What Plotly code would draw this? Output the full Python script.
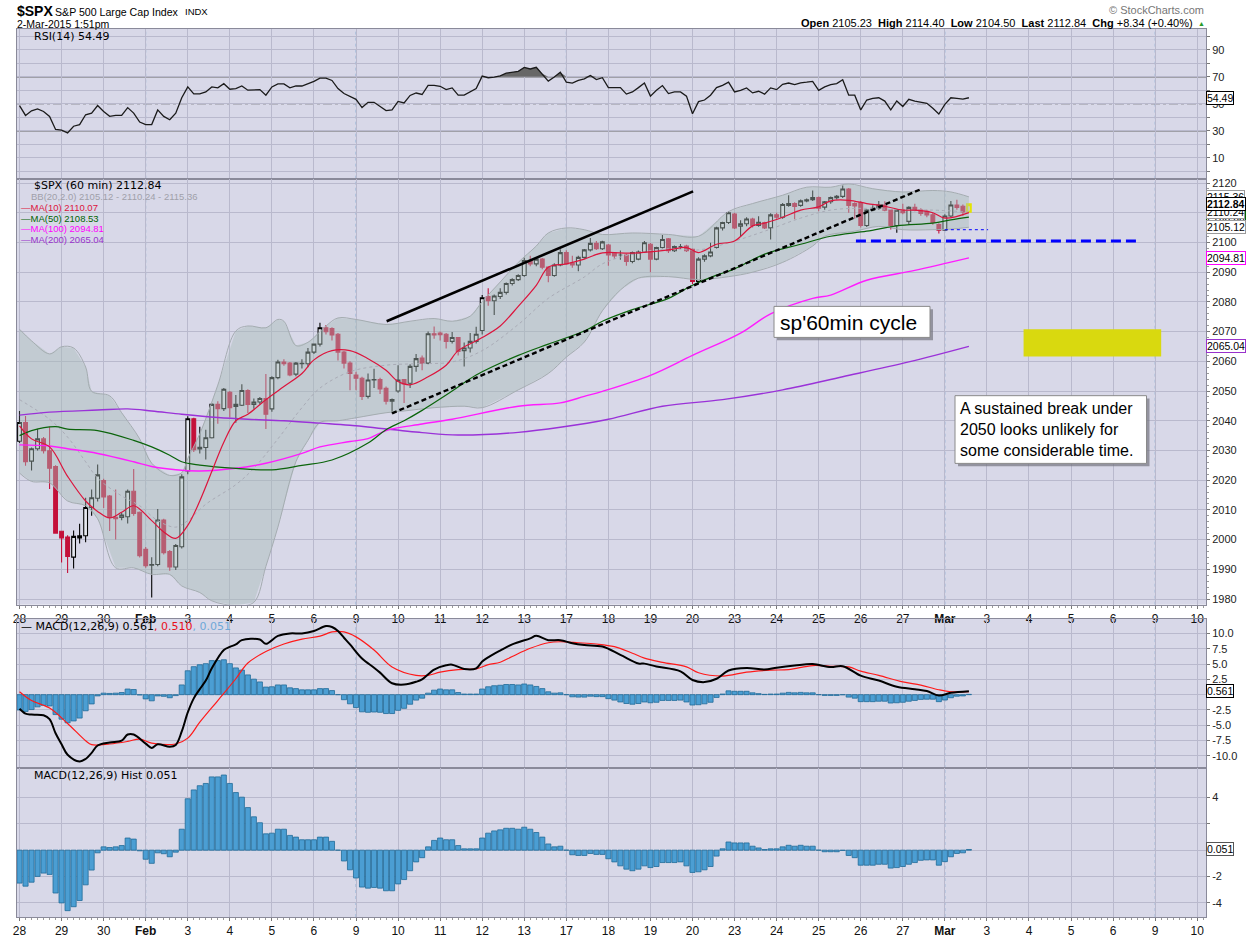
import plotly.graph_objects as go
from datetime import date

# ---------------- data ----------------
dates = ["2015-01-28", "2015-01-29", "2015-01-30", "2015-02-02", "2015-02-03", "2015-02-04",
         "2015-02-05", "2015-02-06", "2015-02-09", "2015-02-10", "2015-02-11", "2015-02-12",
         "2015-02-13", "2015-02-17", "2015-02-18", "2015-02-19", "2015-02-20", "2015-02-23",
         "2015-02-24", "2015-02-25", "2015-02-26", "2015-02-27", "2015-03-02", "2015-03-03",
         "2015-03-04", "2015-03-05", "2015-03-06", "2015-03-09", "2015-03-10"]
BARS_PER_DAY = 7

opens = [2033.1, 2039.4, 2026.4, 2030.6, 2033.9, 2029.9, 2024.6,
         2002.8, 2000.9, 1994.1, 2000.6, 2001.3, 2010.8, 2013.9,
         2019.9, 2014.7, 2007.5, 2007.5, 2007.7, 2016.3, 2009.2,
         1996.7, 1991.4, 1991.6, 2006.6, 1996.0, 1990.8, 1997.6,
         2023.1, 2040.7, 2030.5, 2031.0, 2034.3, 2045.5, 2044.1,
         2049.6, 2044.8, 2045.2, 2050.2, 2045.5, 2046.3, 2047.5,
         2044.0, 2054.5, 2059.8, 2059.4, 2055.7, 2059.2, 2059.2,
         2063.1, 2065.8, 2071.3, 2071.0, 2069.1, 2063.1, 2059.4,
         2055.4, 2054.3, 2048.2, 2053.7, 2053.9, 2050.9, 2046.6,
         2050.0, 2053.9, 2052.6, 2058.3, 2061.1, 2059.4, 2069.3,
         2069.5, 2069.1, 2066.7, 2068.0, 2063.6, 2064.5, 2066.7,
         2070.4, 2081.8, 2080.4, 2081.8, 2083.2, 2086.2, 2087.5,
         2088.9, 2093.9, 2092.8, 2094.4, 2091.7, 2088.9, 2092.4,
         2096.6, 2093.1, 2092.4, 2095.0, 2097.5, 2099.7, 2097.9,
         2099.1, 2096.4, 2095.8, 2095.8, 2093.6, 2094.4, 2096.8,
         2099.4, 2094.4, 2098.3, 2101.2, 2097.2, 2098.6, 2098.8,
         2097.7, 2086.9, 2094.4, 2095.5, 2098.3, 2104.9, 2106.7,
         2109.6, 2105.5, 2106.3, 2107.9, 2105.7, 2106.7, 2104.9,
         2109.3, 2108.5, 2112.5, 2113.1, 2112.5, 2114.0, 2114.4,
         2115.1, 2111.9, 2113.7, 2115.1, 2115.5, 2118.0, 2113.1,
         2113.4, 2105.7, 2110.9, 2111.5, 2112.6, 2110.9, 2105.7,
         2110.9, 2107.1, 2111.8, 2110.9, 2110.5, 2109.3, 2106.0,
         2104.2, 2108.9, 2112.6, 2112.2, 2110.3]
highs = [2043.3, 2041.6, 2031.0, 2037.2, 2034.5, 2038.0, 2025.0,
         2003.0, 2001.5, 2003.1, 2005.3, 2014.1, 2016.9, 2025.3,
         2020.5, 2015.0, 2016.9, 2009.0, 2016.9, 2023.8, 2009.5,
         1997.5, 1994.1, 2010.3, 2007.0, 1996.5, 1998.5, 2022.0,
         2041.5, 2041.0, 2038.0, 2037.0, 2046.0, 2046.6, 2051.0,
         2050.0, 2048.7, 2052.3, 2050.6, 2047.5, 2048.0, 2055.7,
         2055.0, 2060.5, 2060.7, 2059.8, 2059.8, 2060.7, 2064.5,
         2066.0, 2073.0, 2072.2, 2071.5, 2069.5, 2063.5, 2060.0,
         2056.5, 2054.8, 2055.9, 2057.5, 2054.5, 2051.5, 2047.5,
         2058.7, 2054.0, 2059.0, 2062.5, 2062.0, 2070.0, 2071.7,
         2070.0, 2069.5, 2069.9, 2068.2, 2066.3, 2069.5, 2071.6,
         2082.3, 2084.6, 2082.5, 2084.6, 2086.5, 2088.0, 2089.3,
         2094.9, 2095.5, 2095.0, 2094.8, 2092.0, 2093.0, 2097.7,
         2097.4, 2095.5, 2095.5, 2097.8, 2101.5, 2100.5, 2100.6,
         2099.5, 2096.6, 2097.3, 2096.2, 2097.0, 2097.3, 2100.5,
         2099.8, 2098.6, 2102.5, 2101.5, 2099.0, 2099.5, 2099.2,
         2098.0, 2095.0, 2096.0, 2099.9, 2105.3, 2107.0, 2110.4,
         2110.0, 2107.5, 2108.5, 2108.3, 2108.8, 2107.0, 2109.8,
         2110.0, 2113.3, 2115.9, 2113.5, 2114.5, 2114.8, 2117.5,
         2115.5, 2114.0, 2115.5, 2116.0, 2119.2, 2118.3, 2113.5,
         2114.0, 2111.2, 2112.5, 2114.0, 2113.9, 2111.2, 2111.2,
         2113.0, 2112.2, 2113.0, 2111.5, 2111.0, 2110.0, 2106.5,
         2109.5, 2114.0, 2114.4, 2112.8, 2113.2]
lows = [2032.5, 2024.9, 2023.3, 2030.0, 2029.0, 2017.0, 2002.0,
        1992.3, 1988.8, 1990.3, 1998.7, 1999.1, 2008.0, 2012.8,
        2010.6, 2002.9, 2000.0, 2006.5, 2005.4, 2008.0, 1994.0,
        1990.5, 1980.5, 1991.0, 1995.0, 1989.5, 1989.8, 1997.0,
        2022.0, 2029.5, 2029.0, 2027.0, 2034.0, 2039.0, 2043.3,
        2041.1, 2039.3, 2045.0, 2042.6, 2044.0, 2045.5, 2037.2,
        2043.0, 2054.0, 2058.5, 2055.0, 2055.0, 2057.6, 2058.0,
        2062.5, 2065.0, 2069.0, 2067.0, 2060.3, 2057.6, 2050.3,
        2050.3, 2047.0, 2047.5, 2051.0, 2049.0, 2045.5, 2042.5,
        2049.4, 2046.0, 2051.0, 2056.5, 2057.0, 2059.0, 2067.6,
        2067.0, 2064.3, 2066.0, 2062.0, 2058.3, 2063.0, 2066.0,
        2069.0, 2078.7, 2075.6, 2081.0, 2082.5, 2085.5, 2087.0,
        2088.5, 2092.0, 2092.0, 2091.0, 2086.6, 2088.5, 2092.0,
        2092.5, 2091.5, 2090.3, 2094.5, 2097.0, 2097.5, 2097.5,
        2092.2, 2094.5, 2094.2, 2092.2, 2093.0, 2094.0, 2096.5,
        2090.0, 2094.0, 2098.0, 2096.5, 2096.8, 2097.8, 2096.8,
        2086.0, 2086.1, 2093.5, 2095.0, 2098.0, 2104.0, 2106.2,
        2104.5, 2102.0, 2105.5, 2105.0, 2105.3, 2104.5, 2101.0,
        2108.0, 2108.0, 2112.0, 2107.8, 2112.0, 2113.5, 2114.0,
        2110.5, 2111.0, 2113.0, 2114.5, 2115.0, 2110.0, 2108.0,
        2105.0, 2105.2, 2110.5, 2111.0, 2110.5, 2104.4, 2103.3,
        2109.5, 2106.0, 2110.5, 2109.0, 2108.5, 2106.0, 2103.0,
        2104.0, 2108.5, 2111.0, 2109.0, 2110.0]
closes = [2039.4, 2026.2, 2030.6, 2033.9, 2029.9, 2024.0, 2002.2,
          2000.6, 1994.3, 2001.1, 2001.3, 2010.8, 2014.1, 2021.8,
          2014.4, 2007.5, 2007.0, 2008.3, 2016.3, 2008.8, 1994.6,
          1991.2, 1991.6, 2006.6, 1995.6, 1990.8, 1998.0, 2021.1,
          2040.7, 2030.3, 2031.1, 2034.3, 2045.5, 2044.1, 2050.6,
          2044.4, 2045.5, 2050.2, 2045.5, 2046.3, 2047.5, 2042.2,
          2054.5, 2059.8, 2059.2, 2055.4, 2059.4, 2059.3, 2063.1,
          2065.8, 2071.3, 2070.0, 2068.9, 2063.1, 2059.4, 2055.9,
          2054.3, 2048.2, 2053.7, 2053.9, 2050.7, 2046.6, 2047.1,
          2053.7, 2052.4, 2058.3, 2060.9, 2059.4, 2069.3, 2068.9,
          2069.0, 2066.7, 2068.0, 2063.3, 2064.5, 2066.7, 2069.1,
          2081.4, 2080.4, 2082.0, 2083.2, 2086.2, 2087.5, 2088.9,
          2093.9, 2092.8, 2094.4, 2091.7, 2088.9, 2092.4, 2096.6,
          2092.8, 2092.4, 2095.0, 2097.5, 2099.7, 2097.9, 2100.2,
          2095.8, 2095.5, 2095.8, 2093.6, 2096.6, 2096.8, 2099.9,
          2094.4, 2098.3, 2101.0, 2097.2, 2098.6, 2098.6, 2097.2,
          2086.9, 2094.4, 2095.5, 2096.8, 2104.9, 2106.7, 2110.0,
          2104.9, 2106.3, 2107.9, 2105.7, 2106.8, 2104.9, 2109.3,
          2108.5, 2112.8, 2113.1, 2112.1, 2114.0, 2114.4, 2115.1,
          2111.5, 2113.7, 2115.1, 2115.5, 2118.0, 2112.5, 2112.3,
          2105.7, 2110.9, 2111.5, 2112.6, 2110.9, 2105.7, 2110.9,
          2110.0, 2111.8, 2110.9, 2109.8, 2109.3, 2106.7, 2104.1,
          2108.9, 2112.6, 2111.8, 2110.3, 2112.84]

rsi = [48.7, 41.4, 44.8, 46.2, 44.3, 40.7, 31.0,
       30.5, 28.5, 33.4, 34.6, 41.9, 43.1, 48.7,
       44.3, 40.7, 41.4, 41.4, 47.2, 43.1, 36.5,
       34.6, 34.6, 45.5, 40.7, 38.2, 43.1, 54.5,
       62.5, 57.4, 57.4, 58.8, 62.5, 61.8, 64.9,
       60.8, 61.3, 63.2, 60.1, 60.1, 60.5, 56.4,
       62.5, 64.7, 64.7, 61.8, 63.2, 63.2, 64.9,
       66.6, 69.0, 69.0, 67.3, 61.3, 57.6, 55.2,
       53.3, 47.2, 51.1, 51.1, 48.0, 45.0, 45.5,
       51.8, 50.6, 56.2, 58.0, 56.9, 63.7, 63.7,
       63.0, 60.5, 61.8, 56.4, 56.4, 58.8, 61.3,
       70.5, 69.3, 69.8, 70.7, 72.7, 73.4, 74.1,
       77.0, 75.8, 77.0, 72.2, 66.8, 69.8, 73.4,
       66.1, 65.4, 67.3, 68.5, 71.0, 68.0, 69.3,
       62.0, 62.0, 62.0, 57.2, 58.8, 62.0, 65.4,
       55.7, 60.0, 63.5, 57.6, 58.8, 58.8, 55.7,
       42.6, 51.6, 52.8, 56.4, 62.0, 63.7, 66.1,
       58.8, 60.0, 61.8, 58.1, 59.3, 57.2, 61.8,
       60.5, 64.4, 65.4, 64.2, 65.5, 66.0, 66.6,
       60.0, 62.5, 64.2, 65.0, 67.8, 56.4, 56.4,
       45.5, 52.8, 54.0, 54.5, 52.0, 45.5, 52.1,
       48.0, 53.3, 52.0, 51.0, 50.4, 46.7, 42.4,
       49.6, 54.5, 54.0, 53.5, 54.49]

macd_hist = [-2.5, -2.73, -2.43, -1.99, -1.74, -1.84, -3.25,
             -4.0, -4.59, -4.29, -3.82, -2.63, -1.51, -0.2,
             0.25, 0.2, 0.25, 0.35, 0.92, 0.84, -0.05,
             -0.69, -1.0, -0.2, -0.27, -0.5, -0.15, 1.59,
             3.9, 4.57, 4.89, 5.06, 5.56, 5.56, 5.7,
             5.06, 4.37, 4.02, 3.23, 2.53, 2.08, 1.24,
             1.29, 1.59, 1.59, 1.12, 0.99, 0.79, 0.79,
             0.79, 0.99, 0.99, 0.67, 0.0, -0.82, -1.49,
             -2.11, -2.8, -2.88, -2.83, -2.88, -3.08, -3.08,
             -2.56, -2.23, -1.56, -0.89, -0.57, 0.25, 0.74,
             0.92, 0.79, 0.79, 0.35, 0.1, 0.1, 0.1,
             0.92, 1.29, 1.46, 1.54, 1.66, 1.66, 1.59,
             1.74, 1.59, 1.34, 0.99, 0.47, 0.25, 0.3,
             0.0, -0.35, -0.4, -0.4, -0.25, -0.32, -0.32,
             -0.65, -0.89, -1.19, -1.44, -1.56, -1.44, -1.19,
             -1.32, -1.24, -0.94, -0.94, -0.94, -0.89, -1.19,
             -1.69, -1.64, -1.49, -1.24, -0.45, 0.1, 0.62,
             0.55, 0.55, 0.55, 0.3, 0.17, 0.05, 0.1,
             0.1, 0.25, 0.37, 0.3, 0.37, 0.3, 0.3,
             0.0, -0.12, -0.12, -0.12, -0.02, -0.4, -0.57,
             -1.14, -1.14, -1.14, -1.07, -1.07, -1.36, -1.32,
             -1.24, -1.07, -0.94, -0.77, -0.74, -0.74, -1.14,
             -0.87, -0.5, -0.25, -0.2, 0.051]

# indicator lines at bar positions
macd_idx = [0, 1, 2, 4, 5, 6, 7, 8, 10, 11, 12, 13, 15, 17, 18, 19, 21, 22, 23, 25, 26, 27, 28, 29,
            30, 31, 32, 34, 35, 36, 37, 40, 41, 43, 45, 47, 49, 51, 52, 53, 54, 55, 57, 59, 60, 62,
            64, 66, 67, 69, 71, 72, 74, 76, 77, 78, 80, 82, 85, 86, 88, 90, 92, 94, 97, 100, 103,
            104, 106, 110, 112, 114, 116, 118, 121, 124, 126, 129, 132, 135, 137, 140, 143, 146,
            149, 151, 153, 155, 158]
macd_val = [-2.3, -3.1, -3.25, -3.36, -4.0, -6.3, -8.1, -9.8, -10.9, -10.5, -9.5, -8.3, -7.8, -7.5,
            -6.5, -6.5, -8.0, -8.7, -8.1, -8.5, -8.2, -6.0, -2.9, -0.6, 0.9, 2.3, 4.3, 7.3, 7.8,
            8.2, 8.9, 9.0, 8.3, 9.6, 10.0, 10.0, 10.4, 11.2, 11.05, 10.4, 9.3, 8.2, 5.9, 4.4, 3.6,
            1.87, 1.65, 2.1, 2.5, 4.1, 4.8, 4.9, 4.2, 4.3, 5.4, 6.1, 7.2, 8.2, 9.2, 9.6, 8.9, 8.9,
            8.4, 8.1, 7.85, 6.5, 5.1, 5.07, 4.6, 3.8, 2.4, 2.05, 2.6, 3.95, 4.37, 4.1, 4.4, 4.75,
            5.0, 4.5, 4.64, 3.1, 2.3, 1.3, 0.9, 0.6, -0.15, 0.3, 0.561]
sig_idx = [0, 2, 5, 8, 11, 12, 15, 18, 20, 22, 26, 28, 30, 33, 36, 38, 41, 44, 47, 50, 52, 54, 56,
           59, 62, 66, 68, 70, 73, 76, 78, 80, 82, 85, 88, 90, 93, 96, 99, 102, 104, 107, 111,
           113, 117, 121, 125, 128, 132, 135, 138, 140, 143, 147, 150, 153, 155, 158]
sig_val = [0.48, -0.96, -2.19, -4.7, -7.52, -8.16, -8.05, -7.63, -7.25, -7.9, -8.05, -7.1, -4.5,
           -0.96, 2.6, 5.17, 7.04, 8.27, 9.07, 9.55, 10.24, 10.24, 9.44, 7.3, 4.53, 3.15, 3.15,
           3.68, 4.1, 4.2, 4.9, 5.3, 6.24, 7.57, 8.48, 8.64, 8.48, 8.27, 7.84, 6.77, 5.97, 5.28,
           4.53, 3.57, 3.04, 3.68, 4.0, 4.1, 4.75, 4.64, 4.53, 3.84, 3.15, 2.08, 1.55, 0.8, 0.48,
           0.51]

bbu_idx = [0, 2, 5, 7, 9, 11, 12, 15, 17, 20, 22, 25, 27, 28, 30, 33, 36, 38, 41, 43, 44, 46, 48,
           51, 53, 56, 61, 65, 69, 72, 75, 77, 80, 83, 86, 88, 91, 94, 97, 102, 108, 113, 118, 122,
           127, 131, 135, 138, 142, 147, 152, 155, 158]
bbu_val = [2070.8, 2066.9, 2062.5, 2064.9, 2064.5, 2058.1, 2049.9, 2048.4, 2042.7, 2033.9, 2025.7,
           2021.6, 2022.5, 2027.3, 2035.6, 2052.0, 2070.2, 2071.9, 2071.3, 2074.1, 2073.5, 2065.3,
           2066.4, 2071.9, 2074.6, 2074.1, 2072.4, 2073.5, 2074.4, 2073.5, 2075.2, 2080.1, 2086.7,
           2093.3, 2098.8, 2103.2, 2104.9, 2104.3, 2102.7, 2103.2, 2102.7, 2102.1, 2110.4, 2113.1,
           2115.9, 2118.6, 2118.6, 2119.7, 2118.1, 2117.0, 2117.5, 2117.0, 2115.36]
bbl_idx = [0, 2, 5, 8, 11, 13, 16, 19, 22, 25, 27, 30, 32, 36, 39, 41, 43, 46, 48, 50, 53, 56, 61,
           64, 69, 74, 77, 83, 88, 91, 94, 97, 100, 103, 108, 113, 118, 122, 127, 132, 134, 139,
           143, 147, 152, 155, 158]
bbl_val = [2022.4, 2019.6, 2019.1, 2013.0, 2011.4, 2007.0, 1990.5, 1990.5, 1988.3, 1988.3, 1984.4,
           1982.2, 1979.4, 1977.8, 1978.9, 1991.0, 2004.2, 2026.2, 2033.4, 2039.4, 2040.0, 2041.0,
           2042.7, 2043.3, 2044.4, 2044.9, 2044.4, 2050.4, 2055.9, 2061.4, 2066.5, 2077.0, 2084.0,
           2088.0, 2088.5, 2087.5, 2088.5, 2090.0, 2093.3, 2098.8, 2102.1, 2103.8, 2105.4, 2104.3,
           2104.3, 2104.5, 2105.12]
bbm_idx = [0, 5, 8, 11, 13, 17, 20, 23, 26, 28, 31, 36, 39, 43, 47, 50, 55, 61, 66, 72, 77, 83, 88,
           94, 97, 102, 108, 113, 119, 124, 130, 135, 141, 147, 152, 158]
bbm_val = [2047.1, 2040.5, 2034.5, 2026.2, 2020.7, 2014.7, 2011.4, 2006.4, 2004.2, 2006.4, 2011.9,
           2018.5, 2024.0, 2033.9, 2044.4, 2051.0, 2056.5, 2058.7, 2059.2, 2059.8, 2063.6, 2072.4,
           2081.2, 2088.4, 2092.8, 2096.1, 2097.9, 2097.5, 2100.5, 2103.8, 2108.2, 2110.9, 2111.5,
           2110.9, 2110.9, 2110.24]

ma10_idx = [0, 2, 5, 8, 11, 13, 15, 17, 19, 22, 24, 26, 28, 30, 32, 34, 36, 38, 41, 44, 47, 49, 52,
            55, 58, 61, 63, 65, 68, 71, 73, 76, 77, 80, 83, 86, 88, 91, 94, 97, 102, 108, 111, 113,
            116, 119, 122, 124, 127, 130, 133, 135, 138, 141, 144, 147, 149, 152, 154, 158]
ma10_val = [2038.3, 2033.9, 2031.2, 2021.3, 2013.0, 2009.5, 2007.3, 2009.2, 2011.4, 2006.4, 2002.6,
            2000.4, 2004.8, 2013.0, 2022.9, 2032.8, 2040.0, 2042.2, 2047.1, 2051.5, 2055.9, 2060.5,
            2063.6, 2063.6, 2060.9, 2057.0, 2053.2, 2052.1, 2054.8, 2058.7, 2063.6, 2066.9, 2068.0,
            2071.9, 2078.5, 2085.6, 2091.7, 2092.8, 2094.4, 2096.5, 2096.4, 2097.5, 2098.3, 2096.6,
            2099.4, 2100.5, 2105.6, 2106.5, 2108.5, 2110.9, 2112.0, 2114.0, 2114.2, 2113.1, 2112.2,
            2110.9, 2110.9, 2110.0, 2108.2, 2110.07]
ma50_idx = [0, 2, 6, 8, 13, 19, 22, 25, 27, 30, 36, 42, 47, 52, 58, 61, 64, 67, 72, 76, 83, 88, 94,
            97, 102, 108, 112, 116, 119, 124, 130, 135, 141, 146, 152, 155, 158]
ma50_val = [2035.0, 2036.7, 2038.0, 2037.2, 2036.7, 2033.4, 2031.2, 2028.4, 2026.2, 2025.1, 2024.0,
            2023.5, 2025.0, 2026.8, 2032.5, 2037.0, 2040.0, 2043.5, 2050.0, 2055.4, 2062.0, 2065.8,
            2070.2, 2073.5, 2077.4, 2081.2, 2085.6, 2089.0, 2091.1, 2096.1, 2099.4, 2102.1, 2103.8,
            2105.6, 2106.5, 2107.6, 2108.53]
ma100_idx = [0, 5, 8, 13, 19, 22, 26, 30, 36, 41, 47, 50, 55, 58, 61, 67, 72, 83, 90, 94, 97, 105,
             112, 120, 125, 132, 135, 141, 149, 158]
ma100_val = [2031.9, 2031.5, 2030.6, 2029.0, 2026.2, 2024.6, 2023.5, 2023.1, 2024.0, 2025.7, 2029.0,
             2031.2, 2033.0, 2034.0, 2036.7, 2038.9, 2040.5, 2044.9, 2046.0, 2048.2, 2049.9, 2055.3,
             2062.0, 2069.5, 2076.0, 2081.2, 2082.3, 2087.3, 2090.6, 2094.81]
ma200_idx = [0, 5, 13, 18, 22, 27, 33, 38, 44, 50, 55, 67, 73, 83, 90, 98, 107, 117, 127, 137, 148,
             158]
ma200_val = [2041.9, 2042.9, 2043.6, 2044.0, 2043.3, 2042.2, 2041.1, 2040.5, 2040.0, 2039.2, 2038.5,
             2036.0, 2035.2, 2036.1, 2037.8, 2040.5, 2044.9, 2047.1, 2050.4, 2054.8, 2059.8, 2065.04]

# hand-drawn annotations (bar position, price)
trend_up_x, trend_up_y = [61.1, 112.1], [2073.5, 2117.2]
trend_low_x, trend_low_y = [62.0, 150.1], [2042.5, 2118.0]
support_x, support_y = [139.2, 186.1], [2100.5, 2100.5]
lowmark_x, lowmark_y = [154.0, 161.2], [2104.3, 2104.3]
zone_x, zone_y = [167.1, 190.0], [2061.6, 2070.8]

# ---------------- layout helpers ----------------
W, H = 1250, 950
ML, MR, MT, MB = 17, 44, 29, 16
PW, PH = W - ML - MR, H - MT - MB


def px(x):
    return (x - ML) / PW


def py(y):
    return (H - MB - y) / PH


FONT = "Liberation Sans"
VFONT = "DejaVu Sans"
GRID = "#b9b9cd"
BG = "#d8d8e8"
BORDER = "#8a8a9a"

n = len(closes)
xs = list(range(n))
dd = [date.fromisoformat(s) for s in dates]
mnames = {1: "Jan", 2: "Feb", 3: "Mar"}
tickvals = [k * BARS_PER_DAY for k in range(len(dd))]
ticktext = []
for k, d in enumerate(dd):
    if k > 0 and d.month != dd[k - 1].month:
        ticktext.append("<b>%s</b>" % mnames[d.month])
    else:
        ticktext.append(str(d.day))
week_starts = [tickvals[k] for k in range(1, len(dd))
               if dd[k].isocalendar()[1] != dd[k - 1].isocalendar()[1]]

fig = go.Figure()

# ---- RSI panel ----
fig.add_trace(go.Scatter(x=xs, y=[70] * n, mode="lines", line=dict(width=0), hoverinfo="skip",
                         showlegend=False, xaxis="x", yaxis="y"))
fig.add_trace(go.Scatter(x=xs, y=[max(v, 70) for v in rsi], mode="lines", line=dict(width=0),
                         fill="tonexty", fillcolor="#676767", hoverinfo="skip", showlegend=False,
                         xaxis="x", yaxis="y"))
fig.add_trace(go.Scatter(x=xs, y=rsi, mode="lines", line=dict(color="#1a1a1a", width=1.3),
                         showlegend=False, xaxis="x", yaxis="y"))

# ---- price panel ----
fig.add_trace(go.Scatter(x=bbu_idx + bbl_idx[::-1], y=bbu_val + bbl_val[::-1], mode="lines",
                         fill="toself", fillcolor="rgba(168,188,184,0.45)", line=dict(width=0),
                         hoverinfo="skip", showlegend=False, xaxis="x2", yaxis="y2"))
for bx, bv in ((bbu_idx, bbu_val), (bbl_idx, bbl_val)):
    fig.add_trace(go.Scatter(x=bx, y=bv, mode="lines", line=dict(color="#a4acb0", width=1),
                             line_shape="spline", showlegend=False, xaxis="x2", yaxis="y2"))
fig.add_trace(go.Scatter(x=bbm_idx, y=bbm_val, mode="lines", line_shape="spline",
                         line=dict(color="#a9abb6", width=1, dash="dot"), showlegend=False,
                         xaxis="x2", yaxis="y2"))
for mx, mv, col, wd in ((ma200_idx, ma200_val, "#9a32d8", 1.4),
                        (ma100_idx, ma100_val, "#ff1cff", 1.4),
                        (ma50_idx, ma50_val, "#0b640b", 1.2),
                        (ma10_idx, ma10_val, "#dc143c", 1.2)):
    fig.add_trace(go.Scatter(x=mx, y=mv, mode="lines", line_shape="spline",
                             line=dict(color=col, width=wd), showlegend=False,
                             xaxis="x2", yaxis="y2"))

fig.add_trace(go.Candlestick(x=xs[:-1], open=opens[:-1], high=highs[:-1], low=lows[:-1],
                             close=closes[:-1],
                             increasing=dict(line=dict(color="#000000", width=1.1), fillcolor="#e6e8f0"),
                             decreasing=dict(line=dict(color="#c4103a", width=1.1), fillcolor="#c4103a"),
                             whiskerwidth=0, showlegend=False, xaxis="x2", yaxis="y2"))
fig.add_trace(go.Candlestick(x=xs[-1:], open=opens[-1:], high=highs[-1:], low=lows[-1:],
                             close=closes[-1:],
                             increasing=dict(line=dict(color="#e4e400", width=2), fillcolor="#d0d0c8"),
                             decreasing=dict(line=dict(color="#e4e400", width=2), fillcolor="#c4103a"),
                             whiskerwidth=0, showlegend=False, xaxis="x2", yaxis="y2"))

fig.add_trace(go.Scatter(x=trend_up_x, y=trend_up_y, mode="lines",
                         line=dict(color="#000000", width=2.6), showlegend=False,
                         xaxis="x2", yaxis="y2"))
fig.add_trace(go.Scatter(x=trend_low_x, y=trend_low_y, mode="lines",
                         line=dict(color="#000000", width=2.4, dash="5px,3px"), showlegend=False,
                         xaxis="x2", yaxis="y2"))
fig.add_trace(go.Scatter(x=support_x, y=support_y, mode="lines",
                         line=dict(color="#0000ff", width=3, dash="10px,5px"), showlegend=False,
                         xaxis="x2", yaxis="y2"))
fig.add_trace(go.Scatter(x=lowmark_x, y=lowmark_y, mode="lines",
                         line=dict(color="#0000ff", width=1, dash="3px,3px"), showlegend=False,
                         xaxis="x2", yaxis="y2"))

# ---- MACD panel ----
fig.add_trace(go.Bar(x=xs, y=macd_hist, width=0.85, marker=dict(color="#4b9ed3",
                     line=dict(color="#216b98", width=0.8)), showlegend=False,
                     xaxis="x3", yaxis="y3"))
fig.add_trace(go.Scatter(x=sig_idx, y=sig_val, mode="lines", line_shape="spline",
                         line=dict(color="#ff1a1a", width=1.2), showlegend=False,
                         xaxis="x3", yaxis="y3"))
fig.add_trace(go.Scatter(x=macd_idx, y=macd_val, mode="lines", line_shape="spline",
                         line=dict(color="#000000", width=2), showlegend=False,
                         xaxis="x3", yaxis="y3"))

# ---- histogram panel ----
fig.add_trace(go.Bar(x=xs, y=macd_hist, width=0.85, marker=dict(color="#4b9ed3",
                     line=dict(color="#216b98", width=0.8)), showlegend=False,
                     xaxis="x4", yaxis="y4"))

# ---------------- axes ----------------
xr = [-0.42, 197.46]


def xax(anchor, labels):
    return dict(domain=[0, 1], anchor=anchor, range=xr, tickmode="array", tickvals=tickvals,
                ticktext=ticktext, showticklabels=labels, ticks="outside" if labels else "",
                ticklen=3, tickcolor="#777", showgrid=True, gridcolor=GRID, gridwidth=1,
                zeroline=False, showline=True, linecolor=BORDER, linewidth=1, mirror=True,
                tickfont=dict(family=FONT, size=12, color="#111"), fixedrange=True,
                minor=dict(dtick=1, tick0=0, ticks="outside" if labels else "", ticklen=2,
                           tickcolor="#9a9a9a", showgrid=False))


def yax(anchor, dom, rng, vals, texts, minor=None):
    d = dict(domain=dom, anchor=anchor, range=rng, side="right", tickmode="array", tickvals=vals,
             ticktext=texts, showgrid=True, gridcolor=GRID, gridwidth=1, zeroline=False,
             showline=True, linecolor=BORDER, linewidth=1, mirror=True, ticks="outside",
             ticklen=3, tickcolor="#777", tickfont=dict(family=FONT, size=11, color="#222"),
             fixedrange=True)
    if minor:
        d["minor"] = minor
    return d


rsi_vals = list(range(0, 101, 10))
rsi_text = [str(v) if v in (10, 30, 50, 70, 90) else "" for v in rsi_vals]
price_vals = list(range(1980, 2121, 10))
price_text = [str(v) for v in price_vals]
macd_vals = [-10, -7.5, -5, -2.5, 0, 2.5, 5, 7.5, 10]
macd_text = ["%.1f" % v if v != 0 else "" for v in macd_vals]
hist_vals = [-4, -2, 0, 2, 4]
hist_text = ["-4", "-2", "", "", "4"]

x2 = xax("y2", True)
x2["rangeslider"] = dict(visible=False)

fig.update_layout(
    width=W, height=H, margin=dict(l=ML, r=MR, t=MT, b=MB),
    paper_bgcolor="white", plot_bgcolor=BG, showlegend=False, boxgap=0.1,
    barmode="overlay",
    xaxis=xax("y", False), xaxis2=x2, xaxis3=xax("y3", False), xaxis4=xax("y4", True),
    yaxis=yax("x", [0.8315, 1.0], [-5.4, 105.4], rsi_vals, rsi_text),
    yaxis2=yax("x2", [0.3517, 0.8312], [1978.1, 2121.4], price_vals, price_text,
               minor=dict(dtick=2, tick0=1980, ticks="outside", ticklen=2, tickcolor="#999",
                          showgrid=False)),
    yaxis3=yax("x3", [0.1676, 0.3359], [-12.0, 12.4], macd_vals, macd_text),
    yaxis4=yax("x4", [0.0, 0.1673], [-5.07, 6.2], hist_vals, hist_text),
)

# ---------------- shapes ----------------
shapes = []
for ax in ("", "2", "3", "4"):
    for ws in week_starts:
        shapes.append(dict(type="line", xref="x" + ax, yref=("y" + ax) + " domain", x0=ws, x1=ws,
                           y0=0, y1=1, line=dict(color="#8db0d4", width=1, dash="dot"),
                           layer="below"))
for lv, dash, wd in ((70, "solid", 1.4), (30, "solid", 1.4), (50, "dashdot", 1)):
    shapes.append(dict(type="line", xref="x domain", yref="y", x0=0, x1=1, y0=lv, y1=lv,
                       line=dict(color="#686868", width=wd, dash=dash), layer="below"))
shapes.append(dict(type="rect", xref="x2", yref="y2", x0=zone_x[0], x1=zone_x[1], y0=zone_y[0],
                   y1=zone_y[1], fillcolor="#d9d90f", line=dict(width=0), layer="above"))
# text boxes with shadow
for (bx0, by0, bx1, by1) in ((774, 311.7, 930, 343.3), (955, 402.7, 1146.5, 471.7)):
    shapes.append(dict(type="rect", xref="paper", yref="paper", x0=px(bx0 + 3), x1=px(bx1 + 3),
                       y0=py(by1 + 3), y1=py(by0 + 3), fillcolor="rgba(110,110,120,0.65)",
                       line=dict(width=0), layer="above"))
    shapes.append(dict(type="rect", xref="paper", yref="paper", x0=px(bx0), x1=px(bx1),
                       y0=py(by1), y1=py(by0), fillcolor="white",
                       line=dict(color="#8a8a8a", width=1), layer="above"))
fig.update_layout(shapes=shapes)

# ---------------- annotations ----------------
ann = []


def txt(x, y, text, size=11, color="#000", family=FONT, anchor="left"):
    ann.append(dict(xref="paper", yref="paper", x=px(x), y=py(y), xanchor=anchor,
                    yanchor="middle", text=text, showarrow=False,
                    font=dict(family=family, size=size, color=color)))


# header
txt(15, 11, "<b>$SPX</b>", size=14)
txt(53, 11.5, "S&P 500 Large Cap Index", size=10.6)
txt(183, 11.5, "INDX", size=9.5)
txt(15, 24, "2-Mar-2015 1:51pm", size=10.5)
txt(1206, 10, "© StockCharts.com", size=11, color="#777", anchor="right")
txt(1195, 23, "<b>Open</b> 2105.23  <b>High</b> 2114.40  <b>Low</b> 2104.50  <b>Last</b> %.2f  "
    "<b>Chg</b> +8.34 (+0.40%%)" % closes[-1], size=11, anchor="right")
txt(1196, 23, "▲", size=7, color="#2a9a2a")

# panel legends
txt(31.7, 36.5, "RSI(14) %.2f" % rsi[-1], size=11, family=VFONT)
txt(31.7, 189, "$SPX (60 min) %.2f" % closes[-1], size=11, family=VFONT)
txt(29, 200, "BB(20,2.0) %.2f - %.2f - %.2f" % (bbl_val[-1], bbm_val[-1], bbu_val[-1]),
    size=9.5, color="#a0a0aa")
txt(19, 211, "—MA(10) %.2f" % ma10_val[-1], size=9.5, color="#dc143c")
txt(19, 221.7, "—MA(50) %.2f" % ma50_val[-1], size=9.5, color="#006400")
txt(19, 232.7, "—MA(100) %.2f" % ma100_val[-1], size=9.5, color="#ff00ff")
txt(19, 243.7, "—MA(200) %.2f" % ma200_val[-1], size=9.5, color="#9932cc")
txt(19, 638, "— MACD(12,26,9) %.3f<span style='color:#e8101a'>, %.3f</span>"
    "<span style='color:#6fa8d8'>, %.3f</span>" % (macd_val[-1], sig_val[-1], macd_hist[-1]),
    size=11, family=VFONT)
txt(31.7, 789.5, "MACD(12,26,9) Hist %.3f" % macd_hist[-1], size=11, family=VFONT)

# annotation boxes
txt(777.6, 328, "sp'60min cycle", size=21)
ann.append(dict(xref="paper", yref="paper", x=px(958), y=py(437.5), xanchor="left",
                yanchor="middle", align="left", showarrow=False,
                text="A sustained break under<br>2050 looks unlikely for<br>some considerable time.",
                font=dict(family=FONT, size=16, color="#000")))


def vbox(yref, val, text, border, bold=False):
    ann.append(dict(xref="paper", yref=yref, x=1, y=val, xanchor="left", yanchor="middle",
                    xshift=0, text="<b>%s</b>" % text if bold else text, showarrow=False,
                    font=dict(family=FONT, size=10.5, color="#000"), bgcolor="white",
                    bordercolor=border, borderwidth=1, borderpad=0))


vbox("y", rsi[-1], "%.2f" % rsi[-1], "#000000")
vbox("y2", bbu_val[-1], "%.2f" % bbu_val[-1], "#9a9a9a")
vbox("y2", ma50_val[-1], "%.2f" % ma50_val[-1], "#006400")
vbox("y2", bbm_val[-1], "%.2f" % bbm_val[-1], "#9a9a9a")
vbox("y2", bbl_val[-1], "%.2f" % bbl_val[-1], "#9a9a9a")
vbox("y2", closes[-1], "%.2f" % closes[-1], "#000000", bold=True)
vbox("y2", ma100_val[-1], "%.2f" % ma100_val[-1], "#ff00ff")
vbox("y2", ma200_val[-1], "%.2f" % ma200_val[-1], "#9932cc")
vbox("y3", macd_val[-1], "%.3f" % macd_val[-1], "#000000")
vbox("y4", macd_hist[-1], "%.3f" % macd_hist[-1], "#555555")

fig.update_layout(annotations=ann)

fig.write_html("out.html", config={"displayModeBar": False},
               post_script="document.body.style.margin='0';")
